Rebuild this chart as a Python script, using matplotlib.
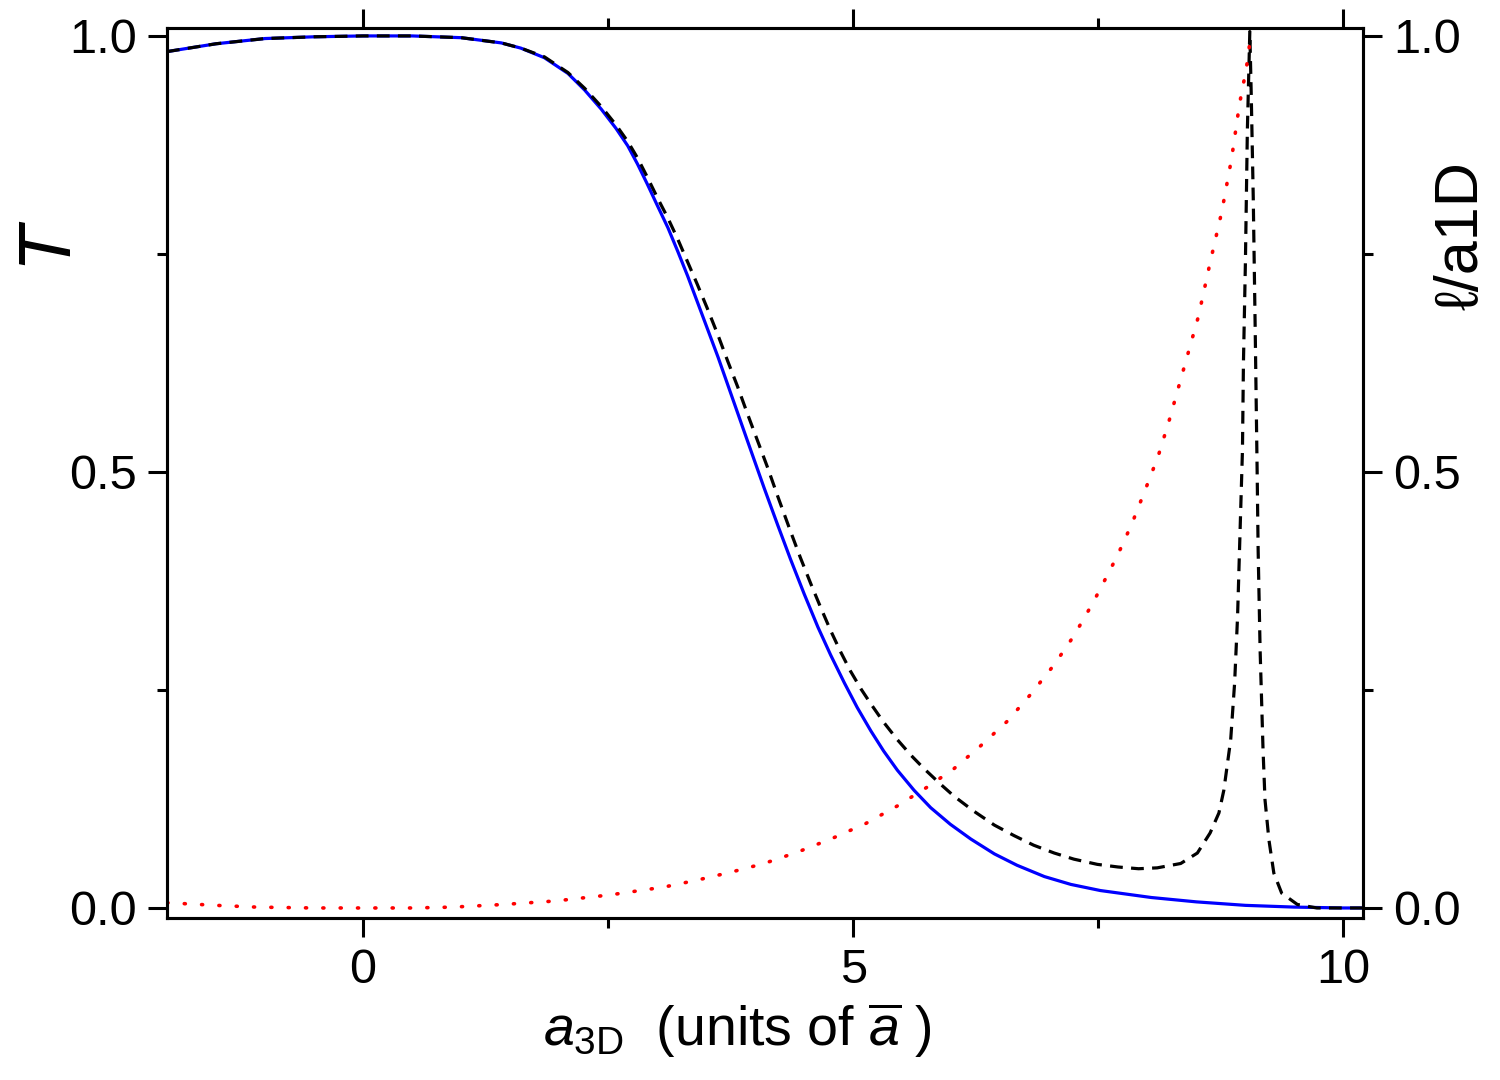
import numpy as np
import matplotlib
matplotlib.use("Agg")
import matplotlib.pyplot as plt
from matplotlib.ticker import MultipleLocator, FormatStrFormatter

plt.rcParams['font.family'] = ['Liberation Sans', 'DejaVu Sans']
plt.rcParams['mathtext.fontset'] = 'custom'
plt.rcParams['mathtext.rm'] = 'Liberation Sans'
plt.rcParams['mathtext.it'] = 'Liberation Sans:italic'

# transmission T (solid blue)
x_T = [-2.00, -1.50, -1.00, -0.50, 0.00, 0.50, 1.00, 1.41, 1.61, 1.85, 2.09, 2.26,
       2.43, 2.58, 2.70, 2.80, 2.90, 3.00, 3.11, 3.21, 3.31, 3.41, 3.51, 3.62, 3.72,
       3.82, 3.92, 4.09, 4.23, 4.36, 4.50, 4.64, 4.77, 4.91, 5.04, 5.18, 5.31, 5.45,
       5.62, 5.79, 5.99, 6.20, 6.44, 6.67, 6.95, 7.22, 7.52, 8.04, 8.50, 9.00, 9.50,
       10.00, 10.20]
y_T = [0.982, 0.991, 0.997, 0.999, 1.000, 1.000, 0.998, 0.992, 0.986, 0.975, 0.957, 0.938,
       0.916, 0.894, 0.874, 0.853, 0.830, 0.806, 0.780, 0.753, 0.725, 0.695, 0.665, 0.632, 0.600,
       0.568, 0.536, 0.482, 0.439, 0.400, 0.360, 0.322, 0.290, 0.258, 0.230, 0.203, 0.180, 0.158,
       0.135, 0.115, 0.096, 0.079, 0.062, 0.049, 0.036, 0.027, 0.020, 0.012, 0.007, 0.003, 0.001,
       0.000, 0.000]

# second transmission curve (dashed black)
x_T2 = [-2.00, -1.50, -1.00, -0.50, 0.00, 0.50, 1.00, 1.41, 1.61, 1.85, 2.09, 2.26,
        2.43, 2.58, 2.70, 2.80, 2.90, 3.00, 3.11, 3.21, 3.31, 3.41, 3.51, 3.62, 3.72,
        3.82, 3.92, 4.02, 4.13, 4.23, 4.36, 4.46, 4.57, 4.67, 4.77, 4.87, 4.97, 5.08,
        5.18, 5.31, 5.45, 5.59, 5.72, 5.89, 6.03, 6.23, 6.44, 6.64, 6.84, 7.05, 7.25,
        7.49, 7.70, 7.91, 8.10, 8.34, 8.51, 8.64, 8.73, 8.78, 8.85, 8.89, 8.92, 8.95,
        8.97, 8.98, 9.00, 9.02, 9.045, 9.06, 9.08, 9.10, 9.12, 9.13, 9.15, 9.18, 9.20,
        9.24, 9.29, 9.37, 9.53, 9.73, 10.20]
y_T2 = [0.982, 0.991, 0.997, 0.999, 1.000, 1.000, 0.998, 0.992, 0.986, 0.976, 0.958, 0.940,
        0.919, 0.898, 0.879, 0.860, 0.838, 0.815, 0.791, 0.767, 0.741, 0.715, 0.688, 0.657, 0.627,
        0.598, 0.567, 0.537, 0.504, 0.472, 0.432, 0.402, 0.371, 0.344, 0.318, 0.294, 0.272, 0.251,
        0.234, 0.213, 0.193, 0.175, 0.160, 0.142, 0.128, 0.111, 0.095, 0.083, 0.072, 0.063, 0.056,
        0.050, 0.047, 0.045, 0.046, 0.051, 0.063, 0.086, 0.109, 0.135, 0.193, 0.258, 0.334, 0.449,
        0.525, 0.625, 0.740, 0.892, 1.005, 0.930, 0.815, 0.663, 0.499, 0.410, 0.296, 0.181, 0.124,
        0.078, 0.040, 0.017, 0.004, 0.000, 0.000]

# l / a1D (dotted red, right axis)
x_l = [-2.00, -1.50, -1.09, -0.50, 0.00, 0.50, 0.92, 1.43, 1.96, 2.52, 3.07, 3.41,
       3.75, 4.09, 4.43, 4.79, 5.13, 5.45, 5.76, 6.03, 6.30, 6.57, 6.81, 7.05, 7.25,
       7.44, 7.52, 7.69, 7.84, 7.98, 8.11, 8.22, 8.37, 8.52, 8.64, 8.76, 8.86, 8.94,
       9.01, 9.06]
y_l = [0.006, 0.003, 0.001, 0.000, 0.000, 0.000, 0.001, 0.004, 0.008, 0.015, 0.024, 0.032,
       0.041, 0.051, 0.064, 0.080, 0.097, 0.117, 0.139, 0.160, 0.186, 0.214, 0.245, 0.279, 0.312,
       0.349, 0.366, 0.403, 0.440, 0.480, 0.518, 0.558, 0.618, 0.678, 0.740, 0.799, 0.860, 0.922,
       0.963, 1.005]

fig = plt.figure(figsize=(15, 10.8), dpi=100)
ax = fig.add_axes([0.1113, 0.15, 0.7974, 0.824])
ax2 = ax.twinx()

ax.plot(x_T, y_T, color='#0000ff', lw=2.3, zorder=3)
ax.plot(x_T2, y_T2, color='black', lw=2.3, linestyle=(0, (4.0, 2.6)), zorder=4)
ax2.plot(x_l, y_l, color='#ff0000', lw=2.6, linestyle=(0, (0.3, 4.5)),
         dash_capstyle='round')

ax.set_xlim(-2.0, 10.2)
ax.set_ylim(-0.0115, 1.009)
ax2.set_ylim(-0.0115, 1.009)

for a in (ax, ax2):
    for s in a.spines.values():
        s.set_linewidth(2.2)

ax.xaxis.set_major_locator(MultipleLocator(5))
ax.xaxis.set_minor_locator(MultipleLocator(2.5))
for a in (ax, ax2):
    a.yaxis.set_major_locator(MultipleLocator(0.5))
    a.yaxis.set_minor_locator(MultipleLocator(0.25))
    a.yaxis.set_major_formatter(FormatStrFormatter('%.1f'))

ax.tick_params(axis='x', which='both', direction='out', top=True, labeltop=False,
               width=2.2, labelsize=35, pad=8)
ax.tick_params(axis='y', which='both', direction='out', width=2.2, labelsize=35, pad=8)
ax2.tick_params(axis='y', which='both', direction='out', width=2.2, labelsize=35, pad=8)
for a in (ax, ax2):
    a.tick_params(which='major', length=13.5)
    a.tick_params(which='minor', length=7.5)

ax.set_ylabel('T', fontsize=54, style='italic', rotation=90, va='center', ha='center')
ax.yaxis.set_label_coords(-0.102, 0.760)
ax2.set_ylabel('ℓ/a1D', fontsize=44, rotation=90, va='center', ha='center')
ax2.yaxis.set_label_coords(1.083, 0.767)
ax.set_xlabel(r'$a_{\mathrm{3D}}$  (units of $\overline{a}$ )', fontsize=40, va='center')
ax.xaxis.set_label_coords(0.477, -0.126)

fig.savefig('out.png', dpi=100)
